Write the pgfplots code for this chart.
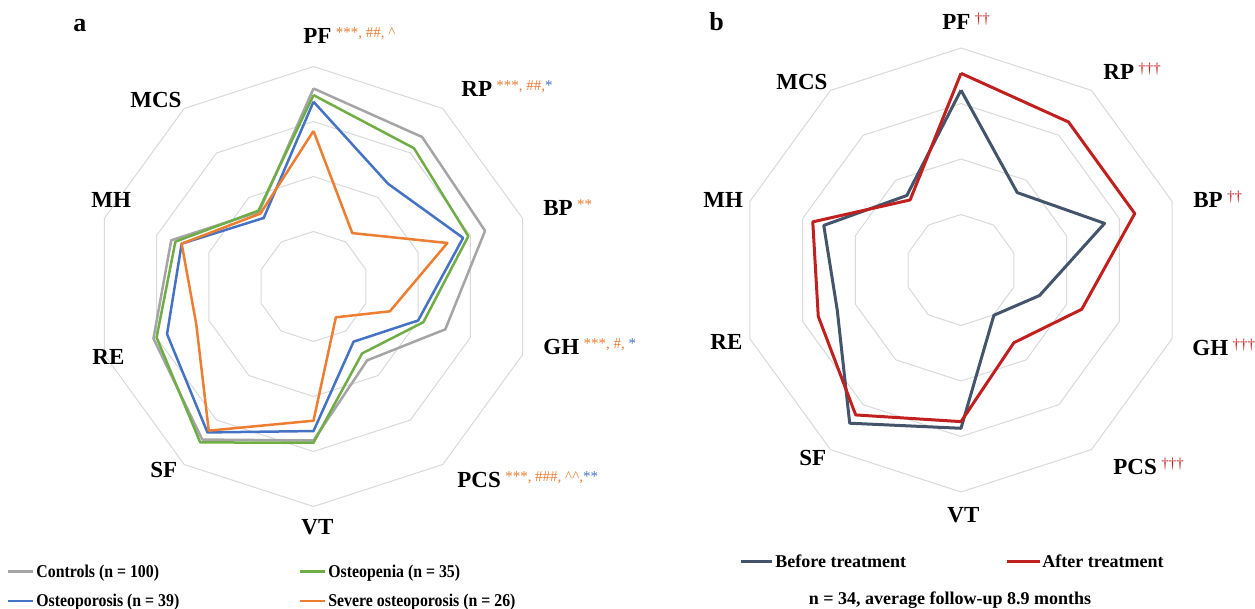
\documentclass[border=0pt]{standalone}
\usepackage{pgfplots}
\pgfplotsset{compat=1.18}
\usepgfplotslibrary{polar}
\usepackage{fontspec}
\setmainfont{Liberation Serif}
\definecolor{cgray}{HTML}{A5A5A5}
\definecolor{cgreen}{HTML}{70AD47}
\definecolor{cblue}{HTML}{4472C4}
\definecolor{corange}{HTML}{ED7D31}
\definecolor{cslate}{HTML}{44546A}
\definecolor{cred}{HTML}{C0211F}
\definecolor{cgrid}{HTML}{D9D9D9}
\newcommand\ao[1]{{\color{corange}#1}}
\newcommand\ab[1]{{\color{cblue}#1}}
\newcommand\ar[1]{{\color{cred}#1}}
\newcommand\ann[1]{\hspace{2.2pt}\raisebox{3pt}{\fontsize{7.5}{8}\selectfont\mdseries #1}}
\newcommand\lblfont{\fontsize{11.5}{13}\selectfont\bfseries}
\newcommand\nar[1]{\scalebox{0.88}[1]{#1}}
\pgfplotsset{radar/.style={hide axis, scale only axis, width=#1, height=#1,
  ymin=0, ymax=100, xmin=0, xmax=360, anchor=origin, clip=false,
  every axis plot/.append style={line join=round}},
  rings/.style={cgrid, line width=0.5pt}}
\begin{document}
\begin{tikzpicture}
\useasboundingbox (0,0) rectangle (627.5pt,-304.5pt);
% ---------------- chart a
\begin{polaraxis}[radar=220pt, at={(156.75pt,-143.25pt)}]
\foreach \r in {25,50,75,100}{
\edef\temp{\noexpand\addplot[rings] coordinates {(90,\r)(54,\r)(18,\r)(342,\r)(306,\r)(270,\r)(234,\r)(198,\r)(162,\r)(126,\r)(90,\r)};}
\temp
}
% order: PF RP BP GH PCS VT SF RE MH MCS
\addplot[cgray, line width=1.25pt] coordinates {(90,90)(54,84)(18,82)(342,63)(306,41.5)(270,70)(234,86)(198,76.5)(162,68)(126,42)(90,90)};
\addplot[cgreen, line width=1.25pt] coordinates {(90,87)(54,77.7)(18,74)(342,52.5)(306,37.6)(270,71)(234,87.6)(198,75)(162,66)(126,42.6)(90,87)};
\addplot[cblue, line width=1.25pt] coordinates {(90,84)(54,57.7)(18,71.5)(342,50)(306,31)(270,65.7)(234,82)(198,70)(162,63)(126,38.5)(90,84)};
\addplot[corange, line width=1.25pt] coordinates {(90,70.7)(54,30)(18,64)(342,36.5)(306,17.3)(270,61)(234,81)(198,56)(162,63)(126,41)(90,70.7)};
\end{polaraxis}
% ---------------- chart b
\begin{polaraxis}[radar=222pt, at={(480.5pt,-135pt)}]
\foreach \r in {25,50,75,100}{
\edef\temp{\noexpand\addplot[rings] coordinates {(90,\r)(54,\r)(18,\r)(342,\r)(306,\r)(270,\r)(234,\r)(198,\r)(162,\r)(126,\r)(90,\r)};}
\temp
}
\addplot[cslate, line width=1.5pt] coordinates {(90,81)(54,43.1)(18,68)(342,37.2)(306,25.2)(270,71.3)(234,85.3)(198,58.6)(162,65)(126,41.5)(90,81)};
\addplot[cred, line width=1.5pt] coordinates {(90,88.6)(54,82.4)(18,82.3)(342,57.2)(306,40.5)(270,68.3)(234,80.7)(198,67.6)(162,70.2)(126,39)(90,88.6)};
\end{polaraxis}
% ---------------- labels (pixel coordinates, origin top-left)
\begin{scope}[x=0.5pt,y=-0.5pt]
\tikzset{lb/.style={anchor=base west, inner sep=0pt, font=\lblfont}}
\node[anchor=base west,inner sep=0pt,font=\fontsize{13}{15}\selectfont\bfseries] at (73,32) {a};
\node[anchor=base west,inner sep=0pt,font=\fontsize{13}{15}\selectfont\bfseries] at (709,31) {b};
% chart a
\node[lb] at (303,44) {PF\ann{\ao{***, \#\#, \textasciicircum}}};
\node[lb] at (461,97) {RP\ann{\ao{***, \#\#,}\ab{*}}};
\node[lb] at (543,216) {BP\ann{\ao{**}}};
\node[lb] at (543,355) {GH\ann{\ao{***, \#, }\ab{*}}};
\node[lb] at (457,488) {PCS\ann{\ao{***, \#\#\#, \textasciicircum\textasciicircum,}\ab{**}}};
\node[lb] at (301,535) {VT};
\node[lb] at (150,478) {SF};
\node[lb] at (92,365) {RE};
\node[lb] at (91,208) {MH};
\node[lb] at (130,108) {MCS};
% chart b
\node[lb] at (942,30) {PF\ann{\ar{††}}};
\node[lb] at (1103,80) {RP\ann{\ar{†††}}};
\node[lb] at (1193,208) {BP\ann{\ar{††}}};
\node[lb] at (1192,356) {GH\ann{\ar{†††}}};
\node[lb] at (1113,475) {PCS\ann{\ar{†††}}};
\node[lb] at (947,523) {VT};
\node[lb] at (799,466) {SF};
\node[lb] at (710,350) {RE};
\node[lb] at (703,208) {MH};
\node[lb] at (776,90) {MCS};
% legend a
\tikzset{lg/.style={anchor=base west, inner sep=0pt, font=\fontsize{9}{11}\selectfont\bfseries}}
\draw[cgray, line width=1.1pt] (8,571.5) -- (33,571.5);
\node[lg] at (36,577.5) {\nar{Controls (n = 100)}};
\draw[cgreen, line width=1.1pt] (300,571.5) -- (325,571.5);
\node[lg] at (328,577.5) {\nar{Osteopenia (n = 35)}};
\draw[cblue, line width=1.1pt] (8,601) -- (33,601);
\node[lg] at (36,607) {\nar{Osteoporosis (n = 39)}};
\draw[corange, line width=1.1pt] (300,601) -- (325,601);
\node[lg] at (328,607) {\nar{Severe osteoporosis (n = 26)}};
% legend b
\draw[cslate, line width=1.3pt] (741,561.5) -- (772,561.5);
\node[lg] at (775,567.3) {Before treatment};
\draw[cred, line width=1.3pt] (1007,561.5) -- (1040,561.5);
\node[lg] at (1042,567.3) {After treatment};
\node[anchor=base, inner sep=0pt, font=\fontsize{9}{11}\selectfont\bfseries] at (950,604) {n = 34, average follow-up 8.9 months};
\end{scope}
\end{tikzpicture}
\end{document}
